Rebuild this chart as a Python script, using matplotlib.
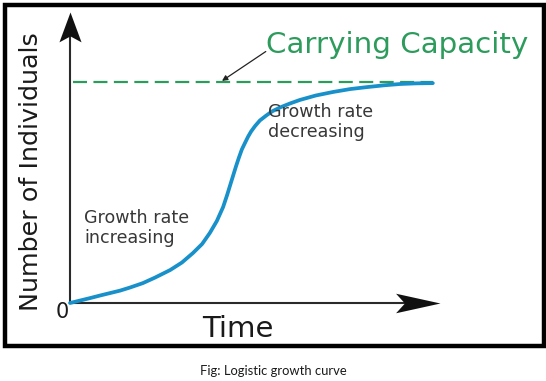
import matplotlib
matplotlib.use("Agg")
import matplotlib.pyplot as plt
from matplotlib.path import Path
from matplotlib.patches import Rectangle

# ---------------- data ----------------
time = [0, 2.7, 5.4, 8.2, 10.9, 13.6, 16.3, 19.8, 23.1, 27.2, 30.4, 33.4, 35.9,
        38.0, 39.9, 41.6, 42.7, 43.5, 44.3, 45.1, 45.9, 46.7, 47.6, 48.4, 49.2,
        50.3, 51.6, 53.3, 54.9, 57.1, 59.8, 62.5, 66.8, 71.5, 76.1, 80.7, 85.3,
        89.7, 94.3, 98.6]
individuals = [0, 1.1, 2.2, 3.4, 4.5, 5.6, 7.0, 9.0, 11.5, 14.9, 18.3, 22.6, 26.7,
               31.7, 37.1, 43.4, 48.9, 53.2, 57.5, 61.8, 65.8, 69.5, 72.6, 75.3, 77.6,
               80.1, 82.6, 84.8, 86.7, 88.5, 90.3, 91.9, 93.9, 95.5, 96.8, 97.7, 98.5,
               99.1, 99.4, 99.5]
capacity = 100
capacity_span = [0.8, 98.6]
x_label = "Time"
y_label = "Number of Individuals"
origin_label = "0"
capacity_label = "Carrying Capacity"
note_increasing = "Growth rate\nincreasing"
note_decreasing = "Growth rate\ndecreasing"
caption = "Fig: Logistic growth curve"

# ---------------- style ----------------
GREEN = "#2c9b5c"
BLUE = "#1890c9"
AXIS = "#2a2a2a"
TEXT = "#383838"

W, H = 546, 381
fig = plt.figure(figsize=(W / 100, H / 100), dpi=100)


def fx(x):
    return x / W


def fy(y):
    return 1 - y / H


ax = fig.add_axes([fx(70), fy(303), 368 / W, (303 - 11.3) / H])
ax.set_xlim(0, 100)
ax.set_ylim(0, 132)
ax.axis("off")

# axes lines
ax.plot([0, 95], [0, 0], color=AXIS, lw=1.5, solid_capstyle="butt", clip_on=False, zorder=3)
ax.plot([0, 0], [0, 125], color=AXIS, lw=1.5, solid_capstyle="butt", clip_on=False, zorder=3)

# stealth arrow heads as markers
codes = [Path.MOVETO, Path.LINETO, Path.LINETO, Path.LINETO, Path.CLOSEPOLY]
head_right = Path([(0, 0), (-1, 0.22), (-0.8, 0), (-1, -0.22), (0, 0)], codes)
head_up = Path([(0, 0), (0.37, -1), (0, -0.8), (-0.37, -1), (0, 0)], codes)
ax.plot([100.5], [0], marker=head_right, ms=64, color="#111111", mew=0,
        clip_on=False, zorder=4)
ax.plot([0], [131.7], marker=head_up, ms=43, color="#111111", mew=0,
        clip_on=False, zorder=4)

# carrying capacity dashed line
ax.plot(capacity_span, [capacity, capacity], color=GREEN, lw=1.6,
        ls=(0, (6.3, 2.9)), clip_on=False, zorder=2)

# logistic curve
ax.plot(time, individuals, color=BLUE, lw=2.7, solid_capstyle="round",
        solid_joinstyle="round", clip_on=False, zorder=3)

# arrow from label to dashed line
ax.annotate("", xy=(41.3, 100.5), xytext=(53.2, 113.8),
            arrowprops=dict(arrowstyle="-|>", color="#222222", lw=0.9,
                            mutation_scale=8, shrinkA=0, shrinkB=0),
            annotation_clip=False)

# texts
fig.text(fx(266), fy(53), capacity_label, color=GREEN, fontsize=21.2,
         ha="left", va="baseline", family="DejaVu Sans")
fig.text(fx(38), fy(171.5), y_label, rotation=90, rotation_mode="anchor",
         ha="center", va="baseline", fontsize=18.3, color="#1a1a1a",
         family="DejaVu Sans")
fig.text(fx(238), fy(337), x_label, ha="center", va="baseline", fontsize=21,
         color="#1a1a1a", family="DejaVu Sans")
fig.text(fx(62.5), fy(317.5), origin_label, ha="center", va="baseline",
         fontsize=15, color="#1a1a1a", family="DejaVu Sans")
fig.text(fx(84), fy(243), note_increasing, ha="left", va="baseline",
         fontsize=12.6, color=TEXT, family="DejaVu Sans", linespacing=1.15)
fig.text(fx(268), fy(137), note_decreasing, ha="left", va="baseline",
         fontsize=12.6, color=TEXT, family="DejaVu Sans", linespacing=1.15)
fig.text(fx(273), fy(375), caption, ha="center", va="baseline", fontsize=9.4,
         color="#1a1a1a", family="Lato")

# frame
fig.patches.append(Rectangle((fx(5.25), fy(345.75)), fx(543.5 - 5.25),
                             (345.75 - 5.25) / H, transform=fig.transFigure,
                             fill=False, edgecolor="black", lw=3.2))

fig.savefig("out.png", dpi=100)
